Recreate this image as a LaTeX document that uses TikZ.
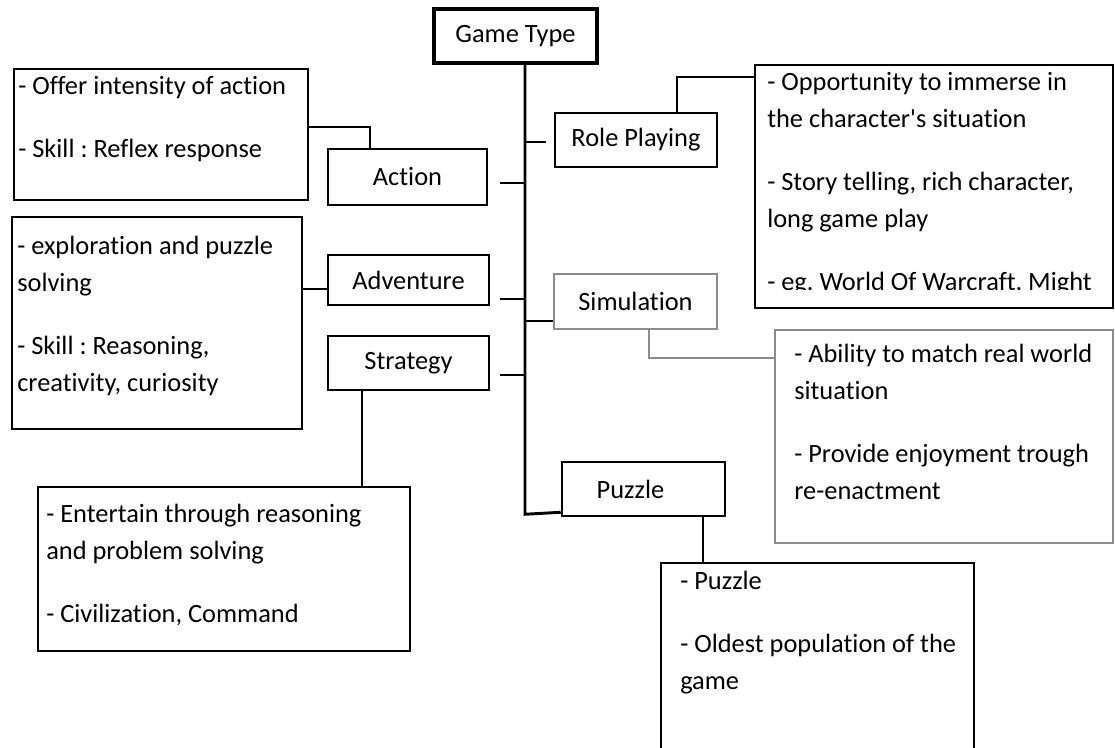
\documentclass[tikz,border=0pt]{standalone}
\usepackage{fontspec}
\setmainfont{Carlito}[Ligatures={TeXOff,NoCommon}]
\usetikzlibrary{fit}
\frenchspacing
\begin{document}
\frenchspacing
\begin{tikzpicture}[x=0.75pt,y=-0.75pt,
  every node/.style={font=\fontsize{19.8}{27.75}\selectfont\frenchspacing},
  lbox/.style={draw, line width=1.9pt, inner sep=0pt},
  topbox/.style={draw, line width=2.3pt, inner sep=0pt},
  dbox/.style={draw, line width=1.9pt, inner sep=0pt},
  gbox/.style={draw=black!45, line width=1.6pt, inner sep=0pt},
  txt/.style={anchor=north west, align=left, inner sep=0pt},
  trunk/.style={line width=2.2pt},
  conn/.style={line width=1.6pt},
  wconn/.style={line width=1.9pt},
  gconn/.style={draw=black!45, line width=1.6pt}]
\useasboundingbox (0,0) rectangle (1115,747);

% category boxes
\node[topbox, minimum width=163*0.75pt, minimum height=54*0.75pt] (gt) at (515.5,36) {Game Type};
\node[lbox, minimum width=159*0.75pt, minimum height=56*0.75pt] (action) at (407.5,177) {Action};
\node[lbox, minimum width=161*0.75pt, minimum height=50*0.75pt] (adv) at (408.5,280) {Adventure};
\node[lbox, minimum width=161*0.75pt, minimum height=54*0.75pt] (strat) at (408.5,363) {Strategy};
\node[lbox, minimum width=162*0.75pt, minimum height=54*0.75pt] (rp) at (636,140) {Role Playing};
\node[gbox, minimum width=163*0.75pt, minimum height=55*0.75pt] (sim) at (635.5,301.5) {Simulation};
\node[lbox, minimum width=163*0.75pt, minimum height=54*0.75pt] (puz) at (643.5,489) {Puzzle\hspace*{19.5pt}};

% description boxes
\node[dbox, fit={(14,69) (308,200)}] (actd) {};
\node[dbox, fit={(12,217) (302,429)}] (advd) {};
\node[dbox, fit={(38,487) (410,651)}] (strd) {};
\node[dbox, fit={(755,65) (1113,308)}] (rpd) {};
\node[gbox, fit={(775,330) (1113,543)}] (simd) {};
\node[dbox, fit={(661,563) (974,765)}] (puzd) {};

% description texts
\node[txt] (actt) at (18,68) {\strut- Offer intensity of action\\[19.5pt]- Skill : Reflex response};
\node[txt] (advt) at (17,228) {\strut- exploration and puzzle\\solving\\[19.5pt]- Skill : Reasoning,\\creativity, curiosity};
\node[txt] (strt) at (46,496) {\strut- Entertain through reasoning\\and problem solving\\[19.5pt]- Civilization, Command};
\begin{scope}
\clip (755,65) rectangle (1113,289);
\node[txt] (rpt) at (767,64) {\strut- Opportunity to immerse in\\the character's situation\\[19.5pt]- Story telling, rich character,\\long game play\\[19.5pt]- eg. World Of Warcraft, Might};
\end{scope}
\node[txt] (simt) at (794,336) {\strut- Ability to match real world\\situation\\[19.5pt]- Provide enjoyment trough\\re-enactment};
\node[txt] (puzt) at (680,563) {\strut- Puzzle\\[19.5pt]- Oldest population of the\\game};

% trunk
\coordinate (tr) at (gt.south -| 525,0);
\path (puz.south west -| tr) ++(0,-3) coordinate (tb);
\draw[trunk] (tr) -- (tb) -- ([yshift=3.75pt]puz.south west);

% branches from the trunk
\draw[trunk] ([shift={(-6pt,-1.5pt)}]rp.west) coordinate (b1) -- (b1 -| tr);
\draw[trunk] ([shift={(9pt,-4.5pt)}]action.east) coordinate (b2) -- (b2 -| tr);
\draw[trunk] ([shift={(7.5pt,-14.25pt)}]adv.east) coordinate (b3) -- (b3 -| tr);
\draw[trunk] ([yshift=-14.6pt]sim.west) coordinate (b4) -- (b4 -| tr);
\draw[trunk] ([shift={(7.5pt,-9pt)}]strat.east) coordinate (b5) -- (b5 -| tr);

% connectors to descriptions
\draw[wconn] ([yshift=5.6pt]actd.east) -| ([xshift=-28.1pt]action.north);
\draw[wconn] ([yshift=-6.75pt]adv.west) coordinate (c2) -- (c2 -| advd.east);
\draw[conn] ([xshift=-34.9pt]strat.south) coordinate (c3) -- (c3 |- strd.north);
\draw[conn] ([xshift=30.75pt]rp.north) |- ([yshift=-9.75pt]rpd.north west);
\draw[gconn] ([xshift=10.1pt]sim.south) |- ([yshift=-21.75pt]simd.north west);
\draw[conn] ([xshift=44.6pt]puz.south) coordinate (c6) -- (c6 |- puzd.north);
\end{tikzpicture}
\end{document}
